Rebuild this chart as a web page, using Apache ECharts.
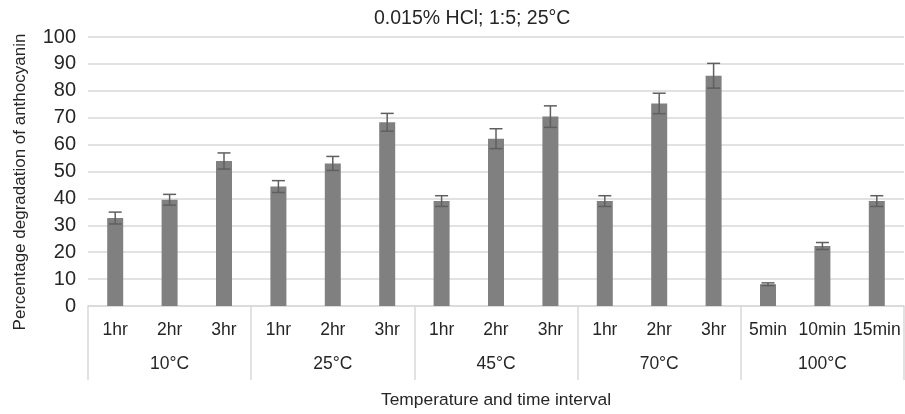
<!DOCTYPE html>
<html>
<head>
<meta charset="utf-8">
<script src="https://cdn.jsdelivr.net/npm/echarts@6/dist/echarts.min.js"></script>
<style>html,body{margin:0;padding:0;background:#fff;}#c{width:905px;height:414px;}</style>
</head>
<body>
<div id="c"></div>
<script>
const timeLabels = ['1hr','2hr','3hr','1hr','2hr','3hr','1hr','2hr','3hr','1hr','2hr','3hr','5min','10min','15min'];
const groupLabels = ['10°C','25°C','45°C','70°C','100°C'];
const values = [32.7, 39.5, 53.9, 44.4, 53.0, 68.3, 39.0, 62.2, 70.4, 39.0, 75.3, 85.6, 8.1, 22.3, 39.0];
const errors = [2.2, 2.0, 3.0, 2.2, 2.6, 3.3, 2.0, 3.7, 4.0, 2.0, 3.8, 4.6, 0.5, 1.3, 2.0];
const yTicks = [0, 10, 20, 30, 40, 50, 60, 70, 80, 90, 100];

const FONT = '"Liberation Sans", Arial, sans-serif';
const chart = echarts.init(document.getElementById('c'), null, {renderer: 'canvas'});
chart.setOption({
  backgroundColor: '#fff',
  animation: false,
  title: {
    text: '0.015% HCl; 1:5; 25°C',
    left: 369, top: 4,
    textStyle: {fontFamily: FONT, fontSize: 19.5, fontWeight: 'normal', color: '#262626'}
  },
  graphic: [{
    type: 'text',
    x: 20, y: 182,
    rotation: Math.PI / 2,
    style: {
      text: 'Percentage degradation of anthocyanin',
      fontFamily: FONT, fontSize: 17, fill: '#262626',
      align: 'center', verticalAlign: 'middle'
    }
  }],
  grid: {left: 88, right: 1, top: 37, bottom: 106, containLabel: false},
  xAxis: [{
    type: 'category',
    data: timeLabels,
    position: 'bottom',
    axisLine: {show: true, lineStyle: {color: '#d9d9d9', width: 1.5}},
    axisTick: {show: false},
    axisLabel: {interval: 0, margin: 15, fontFamily: FONT, fontSize: 17.5, color: '#262626'}
  }, {
    type: 'category',
    data: groupLabels,
    position: 'bottom',
    axisLine: {show: false},
    axisTick: {show: true, length: 74, interval: 0, lineStyle: {color: '#d9d9d9', width: 1.5}},
    axisLabel: {interval: 0, margin: 49, fontFamily: FONT, fontSize: 17.5, color: '#262626'},
    name: 'Temperature and time interval',
    nameLocation: 'middle',
    nameGap: 86,
    nameTextStyle: {fontFamily: FONT, fontSize: 17.4, color: '#262626'}
  }],
  yAxis: {
    type: 'value',
    min: yTicks[0], max: yTicks[yTicks.length - 1], interval: 10,
    axisLine: {show: false},
    axisTick: {show: false},
    splitLine: {lineStyle: {color: '#d9d9d9', width: 1.5}},
    axisLabel: {margin: 12, fontFamily: FONT, fontSize: 20, color: '#262626'}
  },
  series: [{
    type: 'bar',
    xAxisIndex: 0,
    data: values,
    barWidth: 16,
    itemStyle: {color: '#808080'}
  }, {
    type: 'custom',
    xAxisIndex: 0,
    data: values.map((v, i) => [i, v - errors[i], v + errors[i]]),
    z: 5,
    renderItem: function (params, api) {
      const x = api.value(0);
      const lo = api.coord([x, api.value(1)]);
      const hi = api.coord([x, api.value(2)]);
      const hw = 6.5;
      const st = {stroke: '#5f5f5f', lineWidth: 1.5};
      return {
        type: 'group',
        children: [
          {type: 'line', shape: {x1: lo[0], y1: lo[1], x2: hi[0], y2: hi[1]}, style: st},
          {type: 'line', shape: {x1: lo[0] - hw, y1: lo[1], x2: lo[0] + hw, y2: lo[1]}, style: st},
          {type: 'line', shape: {x1: hi[0] - hw, y1: hi[1], x2: hi[0] + hw, y2: hi[1]}, style: st}
        ]
      };
    }
  }]
});
</script>
</body>
</html>
